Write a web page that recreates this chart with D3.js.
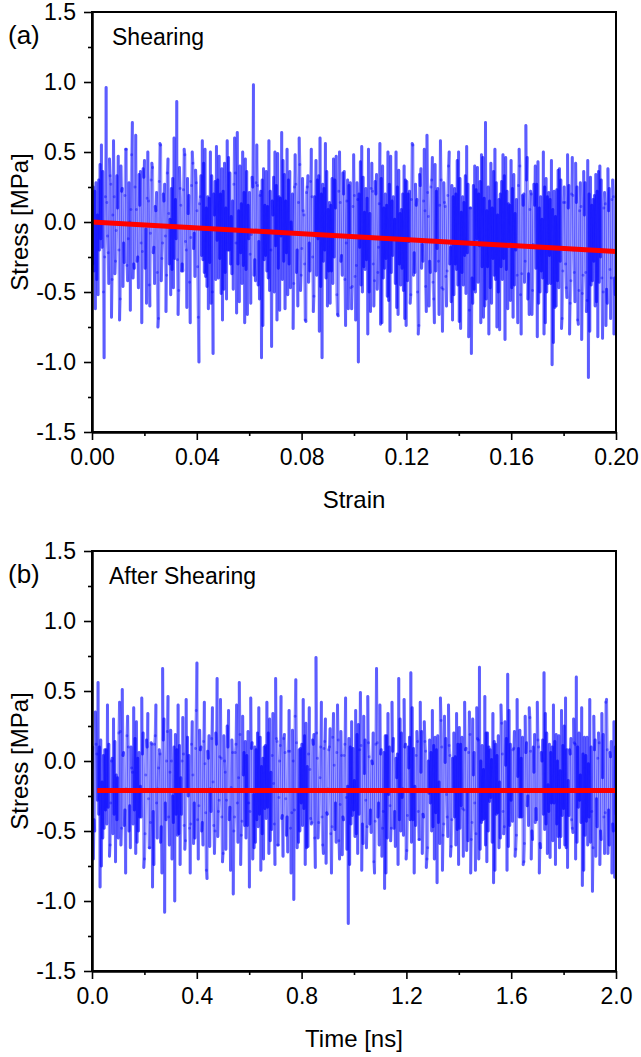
<!DOCTYPE html>
<html>
<head>
<meta charset="utf-8">
<script src="https://cdn.jsdelivr.net/npm/d3@7"></script>
<style>
  body { margin: 0; background: #fff; }
  svg text { font-family: "Liberation Sans", Arial, sans-serif; fill: #000; }
</style>
</head>
<body>
<svg id="chart" width="641" height="1057"></svg>
<script>
// stress during shearing, strain 0 -> 0.2; the three lists hold
// samples 3k, 3k+1 and 3k+2 of the trace
const stressShearA = [
  0.12, -0.35, 0.28, -0.52, 0.41, -0.18, -0.97, 0.96, -0.22, 0.33,
  -0.41, 0.18, -0.06, 0.47, -0.55, 0.24, -0.29, 0.52, -0.12, -0.63,
  0.71, -0.33, 0.09, -0.47, 0.36, -0.21, 0.44, -0.58, 0.15, -0.08,
  0.39, -0.44, 0.21, -0.69, 0.55, -0.15, 0.27, -0.38, 0.06, -0.52,
  0.31, -0.26, 0.86, -0.49, 0.12, -0.35, 0.48, -0.61, 0.19, -0.11,
  0.42, -0.39, 0.08, -1.0, 0.33, -0.27, 0.52, -0.46, 0.17, -0.58,
  -0.94, 0.29, -0.13, 0.47, -0.51, 0.22, -0.36, 0.58, -0.2, 0.04,
  -0.48, 0.35, 0.64, -0.57, 0.13, -0.31, 0.45, -0.66, 0.21, -0.09,
  0.98, -0.42, 0.26, -0.55, -0.97, 0.38, -0.24, 0.11, -0.49, -0.89,
  0.32, -0.17, 0.49, -0.63, 0.64, -0.28, 0.15, -0.52, 0.36, -0.08,
  -0.44, 0.27, -0.6, 0.41, -0.19, 0.05, -0.71, 0.33, -0.35, 0.18,
  -0.53, 0.44, -0.12, 0.6, -0.97, 0.24, -0.4, 0.09, -0.58, 0.31,
  -0.25, 0.47, -0.67, 0.14, -0.38, 0.36, -0.15, -0.62, 0.28, -0.46,
  0.19, -0.31, -1.0, 0.43, -0.5, 0.07, -0.27, 0.52, -0.64, 0.22,
  -0.42, 0.34, -0.18, -0.73, 0.4, -0.33, 0.12, -0.56, 0.47, -0.24,
  0.02, -0.61, 0.37, -0.45, 0.2, -0.69, 0.29, -0.14, -0.52, 0.55,
  -0.36, 0.16, -0.74, 0.38, -0.28, 0.08, 0.62, -0.6, 0.25, -0.43,
  0.41, -0.19, -0.66, 0.3, -0.48, 0.11, -0.35, 0.5, -0.57, 0.18,
  -0.3, 0.44, -0.71, 0.07, -0.45, 0.33, -0.22, -0.63, -0.94, 0.26,
  -0.5, 0.39, -0.17, 0.48, -0.68, 0.71, -0.32, 0.15, -0.58, 0.36,
  -0.41, 0.05, -0.77, 0.29, -0.26, 0.46, -0.62, 0.12, -0.47, 0.34,
  -0.2, -0.72, 0.4, -0.37, 0.2, 0.69, -0.55, 0.09, -0.66, 0.27,
  -0.33, 0.43, -0.5, 0.02, -0.8, 0.31, -0.44, 0.16, -1.02, 0.22,
  -0.6, 0.37, -0.28, -0.69, 0.25, -0.47, 0.1, -0.58, 0.46, -0.36,
  0.14, -0.73, 0.28, -0.51, 0.05, -0.64, -1.11, 0.32, -0.42, 0.19,
  -0.57, 0.36, -0.25, -0.83, 0.21, -0.48, 0.08, -0.69, 0.3, -0.4
];
const stressShearB = [
  -0.3, 0.22, -0.41, 0.3, -0.12, 0.36, -0.25, 0.14, -0.44, 0.27,
  0.05, -0.37, 0.33, -0.2, 0.4, -0.46, 0.19, -0.31, 0.28, 0.09,
  -0.4, 0.25, -0.28, 0.34, -0.15, 0.38, -0.33, 0.17, -0.45, 0.3,
  -0.22, 0.11, -0.36, 0.29, -0.42, 0.2, -0.1, 0.35, -0.3, 0.24,
  -0.47, 0.16, -0.27, 0.39, -0.35, 0.23, -0.14, 0.31, -0.43, 0.26,
  -0.19, 0.37, -0.32, 0.13, -0.24, 0.42, -0.39, 0.18, -0.29, 0.33,
  0.2, -0.41, 0.3, -0.26, 0.38, -0.48, 0.1, -0.2, 0.35, -0.37,
  0.27, -0.15, -0.3, 0.4, -0.44, 0.21, -0.34, 0.12, -0.23, 0.32,
  -0.38, 0.28, -0.45, 0.19, 0.3, -0.27, 0.36, -0.4, 0.22, 0.15,
  -0.5, 0.26, -0.33, 0.17, -0.41, 0.34, -0.22, 0.3, -0.47, 0.2,
  0.25, -0.36, 0.14, -0.49, 0.31, -0.3, 0.21, -0.43, 0.29, -0.25,
  0.18, -0.38, 0.33, -0.46, 0.27, -0.2, 0.36, -0.35, 0.12, -0.44,
  0.3, -0.52, 0.22, -0.28, 0.35, -0.41, 0.15, 0.26, -0.47, 0.11,
  -0.39, 0.28, 0.2, -0.45, 0.32, -0.34, 0.17, -0.5, 0.24, -0.3,
  0.29, -0.48, 0.13, 0.31, -0.4, 0.2, -0.53, 0.27, -0.36, 0.18,
  -0.44, 0.25, -0.3, 0.09, -0.49, 0.3, -0.42, 0.22, 0.16, -0.38,
  0.27, -0.5, 0.34, -0.33, 0.15, -0.46, 0.21, -0.28, 0.3, -0.55,
  -0.35, 0.24, 0.12, -0.47, 0.28, -0.39, 0.19, -0.3, 0.26, -0.52,
  0.2, -0.45, 0.31, -0.36, 0.14, -0.51, 0.27, 0.1, -0.4, -0.48,
  0.23, -0.43, 0.29, -0.32, 0.17, -0.55, 0.25, -0.47, 0.1, -0.38,
  0.28, -0.5, 0.2, -0.41, 0.33, -0.34, 0.13, -0.56, 0.24, -0.45,
  0.16, 0.26, -0.52, 0.19, -0.43, 0.3, -0.37, 0.22, -0.49, 0.12,
  0.27, -0.58, 0.18, -0.4, 0.25, -0.5, 0.21, -0.44, 0.09, -0.61,
  0.23, -0.47, 0.3, -0.35, 0.14, -0.54, 0.26, -0.42, 0.19, -0.57,
  0.25, -0.49, 0.11, -0.38, 0.28, -0.56, 0.2, -0.45, 0.16, -0.6,
  0.22, -0.43, 0.3, -0.5, 0.13, -0.58, 0.24, -0.4, 0.18, -0.52
];
const stressShearC = [
  0.25, -0.62, 0.05, -0.2, 0.55, -0.5, 0.18, -0.1, 0.45, -0.68,
  0.58, -0.28, 0.1, -0.7, 0.22, -0.15, 0.52, -0.42, 0.0, 0.48,
  -0.3, 0.62, -0.25, 0.12, -0.72, 0.32, -0.05, 0.5, -0.6, 0.42,
  -0.18, 0.08, -0.75, 0.56, -0.26, 0.15, -0.64, 0.45, 0.02, -0.34,
  0.6, -0.12, -0.66, 0.24, -0.3, 0.52, -0.2, 0.06, -0.72, 0.5,
  -0.08, 0.28, -0.68, 0.18, 0.58, -0.36, 0.1, -0.62, 0.5, -0.5,
  0.05, 0.54, -0.4, 0.2, -0.7, 0.42, -0.55, 0.46, -0.3, 0.15,
  0.6, -0.65, 0.08, -0.22, 0.5, -0.72, 0.36, -0.12, -0.58, 0.25,
  -0.27, 0.55, -0.14, 0.22, -0.74, 0.12, -0.35, 0.58, -0.2, 0.05,
  0.5, -0.7, 0.18, -0.1, 0.44, -0.62, 0.52, -0.3, 0.0, -0.76,
  0.48, -0.2, 0.6, -0.38, 0.08, -0.7, 0.25, -0.15, 0.52, -0.64,
  -0.1, 0.3, -0.78, 0.2, -0.28, 0.56, -0.6, 0.14, -0.35, 0.45,
  0.1, -0.66, 0.5, -0.24, 0.2, -0.74, 0.3, -0.08, -0.62, 0.48,
  -0.7, 0.16, -0.18, 0.54, -0.32, 0.24, -0.8, 0.06, 0.42, -0.6,
  0.2, -0.36, 0.56, -0.72, 0.1, -0.26, 0.5, -0.78, 0.15, -0.12,
  0.5, -0.66, 0.06, -0.33, 0.4, -0.74, 0.2, -0.58, 0.56, -0.22,
  0.12, -0.8, 0.26, -0.16, 0.52, -0.64, 0.04, -0.36, 0.46, -0.72,
  0.22, -0.28, 0.58, -0.78, 0.14, -0.6, 0.4, -0.18, -0.7, 0.24,
  -0.34, 0.5, -0.76, 0.18, -0.24, 0.54, -0.82, 0.1, -0.58, 0.4,
  -0.12, 0.2, -0.72, 0.46, -0.6, 0.08, -0.8, 0.42, -0.26, 0.52,
  -0.75, 0.16, -0.32, 0.48, -0.84, 0.22, -0.14, 0.44, -0.68, 0.06,
  -0.38, 0.52, -0.8, 0.12, -0.28, 0.46, -0.66, 0.2, -0.16, 0.4,
  -0.82, 0.1, -0.35, 0.5, -0.72, 0.18, -0.24, 0.44, -0.86, 0.04,
  -0.42, 0.38, -0.76, 0.14, -0.3, 0.48, -0.8, 0.2, -0.2, 0.42,
  -0.7, 0.08, -0.84, 0.36, -0.36, 0.44, -0.78, 0.12, -0.28, 0.34,
  -0.82, 0.4, -0.4, 0.1, -0.74, 0.38, -0.34, 0.16, -0.8, 0.3
];

// stress after shearing, time 0 -> 2 ns (same three-way split)
const stressAfterA = [
  -0.05, -0.42, 0.12, 0.56, -0.9, -0.15, -0.48, 0.08, -0.33, -0.6,
  0.02, -0.38, -0.1, -0.55, 0.21, 0.51, -0.46, -0.2, 0.1, -0.62,
  -0.08, -0.35, 0.28, -0.5, -0.18, 0.05, -0.7, 0.15, -0.27, -0.44,
  -0.9, 0.12, -0.3, -0.05, -0.58, 0.66, -1.08, 0.0, -0.4, 0.22,
  -0.25, -1.0, 0.08, -0.52, -0.12, 0.31, -0.63, -0.2, 0.04, -0.45,
  -0.1, -0.55, 0.70, -0.32, 0.1, -0.6, -0.02, -0.84, 0.18, -0.36,
  -0.15, -0.5, 0.59, -0.28, 0.02, -0.66, -0.08, 0.25, -0.42, -0.19,
  -0.95, 0.06, -0.3, 0.56, -0.53, -0.1, 0.14, -0.46, -0.9, 0.09,
  -0.24, -0.58, 0.2, -0.38, -0.04, -0.7, 0.11, -0.33, 0.3, -0.49,
  -0.16, 0.59, -0.6, 0.0, -0.41, 0.16, -0.27, -0.65, 0.07, -0.37,
  -0.99, 0.58, -0.22, -0.5, 0.12, -0.34, 0.27, -0.61, -0.06, -0.44,
  0.19, 0.74, -0.55, -0.12, -0.4, 0.09, -0.73, -0.2, 0.23, -0.47,
  -0.03, -0.58, 0.15, -0.31, -0.67, 0.04, -0.26, -1.16, 0.1, -0.39,
  -0.14, -0.52, 0.26, 0.49, -0.45, -0.09, -0.62, 0.13, -0.35, -0.02,
  -0.8, 0.66, -0.3, 0.05, -0.48, -0.91, 0.18, -0.24, -0.57, 0.07,
  -0.36, -0.12, 0.59, -0.5, -0.2, 0.1, -0.64, -0.05, 0.63, -0.42,
  -0.18, 0.21, -0.56, -0.08, -0.38, 0.14, -0.7, -0.23, 0.06, -0.47,
  0.17, -0.87, -0.15, 0.29, -0.53, -0.01, -0.4, 0.11, -0.61, -0.19,
  0.03, -0.49, 0.24, -0.32, -0.68, 0.08, -0.22, 0.35, -0.56, -0.1,
  -0.78, 0.16, 0.67, -0.44, -0.06, -0.6, 0.2, -0.29, 0.01, -0.87,
  0.12, -0.37, -0.15, 0.27, -0.52, -0.03, 0.62, -0.46, -0.21, 0.09,
  -0.63, -0.11, 0.22, -0.4, -0.72, 0.06, -0.25, 0.31, -0.5, -0.08,
  -0.34, 0.15, -0.59, 0.0, 0.63, -0.45, -0.17, -0.69, 0.1, -0.3,
  0.19, -0.54, -0.07, -0.39, 0.25, -0.62, -0.14, 0.05, -0.48, 0.13,
  0.6, -0.33, -0.1, -0.89, 0.17, -0.43, -0.02, -0.58, -0.93, 0.08,
  -0.27, 0.2, -0.5, -0.12, -0.66, 0.44, -0.35, 0.03, -0.45, -0.83
];
const stressAfterB = [
  0.1, -0.5, 0.05, -0.38, 0.15, -0.55, 0.08, -0.45, 0.12, -0.3,
  -0.52, 0.14, -0.42, 0.2, -0.6, 0.04, -0.35, 0.18, -0.5, 0.1,
  -0.45, 0.16, -0.58, 0.06, -0.4, 0.2, -0.52, 0.1, -0.62, 0.13,
  -0.36, 0.18, -0.55, 0.08, -0.47, 0.15, -0.3, 0.21, -0.6, 0.0,
  -0.44, 0.19, -0.53, 0.11, -0.38, 0.05, -0.57, 0.17, -0.48, 0.12,
  -0.59, 0.09, -0.42, 0.22, -0.5, 0.14, -0.37, 0.07, -0.61, 0.16,
  -0.46, 0.2, -0.54, 0.03, -0.4, 0.18, -0.63, 0.1, -0.33, 0.15,
  -0.5, 0.12, -0.58, 0.19, -0.43, 0.06, -0.55, 0.21, -0.36, 0.13,
  -0.62, 0.08, -0.47, 0.17, -0.52, 0.1, -0.41, 0.2, -0.57, 0.04,
  -0.45, 0.16, -0.6, 0.11, -0.39, 0.19, -0.53, 0.07, -0.48, 0.22,
  -0.35, 0.13, -0.58, 0.09, -0.46, 0.18, -0.62, 0.05, -0.41, 0.15,
  -0.55, 0.2, -0.44, 0.1, -0.6, 0.14, -0.37, 0.08, -0.52, 0.17,
  -0.49, 0.06, -0.57, 0.21, -0.4, 0.12, -0.63, 0.16, -0.45, 0.09,
  -0.54, 0.19, -0.38, 0.11, -0.59, 0.15, -0.47, 0.03, -0.51, 0.2,
  -0.43, 0.13, -0.6, 0.08, -0.36, 0.18, -0.55, 0.1, -0.48, 0.16,
  -0.61, 0.05, -0.42, 0.2, -0.53, 0.12, -0.39, 0.17, -0.58, 0.09,
  -0.46, 0.14, -0.56, 0.21, -0.4, 0.07, -0.62, 0.15, -0.5, 0.11,
  -0.37, 0.18, -0.59, 0.1, -0.45, 0.16, -0.54, 0.04, -0.42, 0.2,
  -0.6, 0.12, -0.48, 0.17, -0.35, 0.09, -0.57, 0.19, -0.44, 0.06,
  -0.52, 0.15, -0.63, 0.11, -0.41, 0.2, -0.5, 0.08, -0.58, 0.14,
  -0.38, 0.18, -0.55, 0.05, -0.47, 0.16, -0.61, 0.12, -0.43, 0.21,
  -0.53, 0.09, -0.4, 0.17, -0.59, 0.13, -0.46, 0.07, -0.56, 0.19,
  -0.42, 0.1, -0.62, 0.15, -0.49, 0.2, -0.36, 0.06, -0.57, 0.14,
  -0.45, 0.18, -0.54, 0.11, -0.6, 0.08, -0.39, 0.16, -0.51, 0.12,
  -0.58, 0.2, -0.44, 0.05, -0.53, 0.17, -0.4, 0.1, -0.62, 0.15,
  -0.47, 0.13, -0.56, 0.19, -0.37, 0.08, -0.6, 0.14, -0.5, 0.1
];
const stressAfterC = [
  -0.7, 0.35, -0.28, 0.1, -0.75, 0.04, -0.35, 0.4, -0.68, 0.0,
  0.3, -0.72, -0.12, 0.42, -0.48, 0.06, -0.8, 0.32, -0.32, -0.05,
  0.38, -0.66, 0.02, -0.4, 0.45, -0.76, -0.1, 0.34, -0.62, 0.12,
  -0.74, 0.4, -0.2, 0.05, -0.8, 0.3, -0.42, 0.46, -0.08, -0.7,
  0.1, -0.38, 0.4, -0.74, 0.0, -0.46, 0.44, -0.25, -0.8, 0.28,
  -0.3, 0.36, -0.7, 0.08, -0.44, 0.42, -0.78, 0.02, -0.2, 0.38,
  -0.66, 0.12, -0.36, 0.44, -0.72, 0.0, -0.28, 0.36, -0.78, 0.06,
  -0.4, 0.4, -0.12, -0.74, 0.32, -0.46, 0.04, -0.3, 0.45, -0.7,
  0.1, -0.42, 0.38, -0.78, 0.02, -0.34, 0.42, -0.66, -0.08, 0.34,
  -0.74, 0.14, -0.26, 0.46, -0.68, 0.06, -0.4, 0.36, -0.8, 0.0,
  0.32, -0.62, 0.08, -0.3, 0.44, -0.74, -0.04, 0.38, -0.45, 0.12,
  -0.76, 0.02, -0.22, 0.42, -0.66, 0.3, -0.38, 0.1, -0.8, 0.34,
  -0.3, 0.4, -0.7, 0.04, -0.42, 0.45, -0.18, -0.74, 0.28, -0.35,
  0.36, -0.66, 0.08, -0.78, 0.32, -0.28, 0.46, -0.45, 0.0, -0.72,
  0.12, -0.4, 0.4, -0.68, 0.06, -0.8, 0.34, -0.32, 0.42, -0.48,
  0.02, -0.74, 0.3, -0.26, 0.44, -0.7, 0.1, -0.42, 0.38, -0.8,
  0.04, -0.36, 0.42, -0.66, 0.28, -0.76, 0.0, -0.3, 0.36, -0.7,
  0.08, -0.44, 0.45, -0.78, 0.32, -0.24, 0.4, -0.68, 0.02, -0.4,
  0.34, -0.74, 0.12, -0.34, 0.42, -0.64, 0.06, -0.8, 0.3, -0.3,
  0.38, -0.7, 0.0, -0.42, 0.46, -0.72, 0.1, -0.26, 0.34, -0.78,
  0.04, -0.62, 0.4, -0.36, 0.28, -0.78, 0.36, -0.28, 0.08, -0.68,
  0.44, -0.4, 0.02, -0.74, 0.32, -0.32, 0.38, -0.7, 0.1, -0.44,
  0.42, -0.8, 0.06, -0.38, 0.34, -0.66, 0.12, -0.3, 0.4, -0.74,
  0.0, -0.62, 0.36, -0.34, 0.45, -0.76, 0.08, -0.42, 0.3, -0.7,
  0.1, -0.28, 0.38, -0.78, 0.04, -0.6, 0.44, -0.36, 0.32, -0.68,
  0.02, -0.74, 0.34, -0.4, 0.42, -0.66, 0.06, -0.8, 0.28, -0.38
];

// linear fits (red)
const shearFit = [[0, 0.0], [0.2, -0.21]];
const afterFit = [[0.02, -0.21], [2.0, -0.21]];

const stressTicks = [-1.5, -1.0, -0.5, 0.0, 0.5, 1.0, 1.5];
const stressMinor = [-1.25, -0.75, -0.25, 0.25, 0.75, 1.25];
const strainTicks = [0, 0.04, 0.08, 0.12, 0.16, 0.2];
const strainMinor = [0.02, 0.06, 0.1, 0.14, 0.18];
const timeTicks = [0, 0.4, 0.8, 1.2, 1.6, 2.0];
const timeMinor = [0.2, 0.6, 1.0, 1.4, 1.8];

const svg = d3.select("#chart");
const left = 92, right = 616, plotH = 420;

function drawPanel(o) {
    let g = svg.append("g").attr("transform", "translate(0," + o.top + ")");
    let x = d3.scaleLinear().domain(o.xDomain).range([left, right]);
    let y = d3.scaleLinear().domain([-1.5, 1.5]).range([plotH, 0]);
    // put the three sample lists back in trace order
    let data = d3.merge(o.parts[0].map((v, i) => o.parts.map(p => p[i])));
    let idx = d3.scaleLinear().domain([0, data.length - 1]).range(o.xDomain);

    g.append("clipPath").attr("id", o.id + "-clip")
        .append("rect").attr("x", left).attr("y", 0)
        .attr("width", right - left).attr("height", plotH);

    // noisy stress trace, one segment each so overlaps build up
    let segs = d3.pairs(data.map((v, i) => [idx(i), v]));
    let line = d3.line().x(d => x(d[0])).y(d => y(d[1]));
    g.append("g").attr("clip-path", "url(#" + o.id + "-clip)")
        .selectAll("path").data(segs).join("path")
        .attr("d", line)
        .attr("fill", "none")
        .attr("stroke", "#0000ff")
        .attr("stroke-opacity", 0.4)
        .attr("stroke-width", 3)
        .attr("stroke-linecap", "round");

    g.append("path").datum(o.fit)
        .attr("d", line)
        .attr("fill", "none")
        .attr("stroke", "#ff0000")
        .attr("stroke-width", 5);

    // box
    g.append("rect").attr("x", left).attr("y", 0)
        .attr("width", right - left).attr("height", plotH)
        .attr("fill", "none").attr("stroke", "#000").attr("stroke-width", 2);

    // axes: major + minor ticks
    g.append("g").attr("transform", "translate(0," + plotH + ")")
        .call(d3.axisBottom(x).tickValues(o.xTicks).tickFormat(o.xFormat)
            .tickSize(8).tickSizeOuter(0).tickPadding(9));
    g.append("g").attr("transform", "translate(0," + plotH + ")")
        .call(d3.axisBottom(x).tickValues(o.xMinor).tickFormat("")
            .tickSize(4).tickSizeOuter(0));
    let yAxis = g.append("g").attr("transform", "translate(" + left + ",0)")
        .call(d3.axisLeft(y).tickValues(stressTicks).tickFormat(d3.format(".1f"))
            .tickSize(8).tickSizeOuter(0).tickPadding(8));
    g.append("g").attr("transform", "translate(" + left + ",0)")
        .call(d3.axisLeft(y).tickValues(stressMinor).tickFormat("")
            .tickSize(4).tickSizeOuter(0));

    g.selectAll(".domain").attr("stroke", "#000").attr("stroke-width", 2);
    g.selectAll(".tick line").attr("stroke", "#000").attr("stroke-width", 1.6);
    g.selectAll(".tick text").style("font-size", "23px")
        .style("font-family", "'Liberation Sans', Arial, sans-serif");
    yAxis.selectAll(".tick text").text(d => d3.format(".1f")(d).replace("−", "-"));

    g.append("text").attr("x", (left + right) / 2).attr("y", plotH + 76)
        .attr("text-anchor", "middle").style("font-size", "24px").text(o.xLabel);
    g.append("text")
        .attr("transform", "translate(28," + (plotH / 2) + ") rotate(-90)")
        .attr("text-anchor", "middle").style("font-size", "24px").text("Stress [MPa]");
    g.append("text").attr("x", 8).attr("y", 32)
        .style("font-size", "26px").text(o.tag);
    g.append("text").attr("x", o.titleX).attr("y", 33)
        .style("font-size", "23px").text(o.title);
}

drawPanel({
    id: "a", top: 12, xDomain: [0, 0.2], parts: [stressShearA, stressShearB, stressShearC],
    fit: shearFit, xTicks: strainTicks, xMinor: strainMinor, xFormat: d3.format(".2f"),
    xLabel: "Strain", tag: "(a)", title: "Shearing", titleX: 112
});
drawPanel({
    id: "b", top: 551, xDomain: [0, 2.0], parts: [stressAfterA, stressAfterB, stressAfterC],
    fit: afterFit, xTicks: timeTicks, xMinor: timeMinor, xFormat: d3.format(".1f"),
    xLabel: "Time [ns]", tag: "(b)", title: "After Shearing", titleX: 109
});
</script>
</body>
</html>
